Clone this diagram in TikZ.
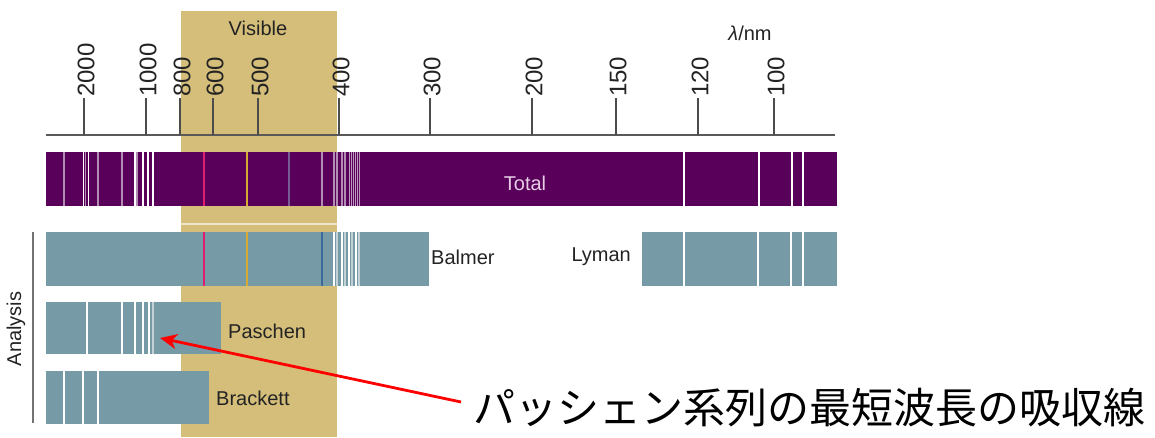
\documentclass[tikz,border=0pt]{standalone}
\usepackage{fontspec}
\setmainfont{Liberation Sans}
\newfontfamily\jpfont{Noto Sans CJK JP}
\usetikzlibrary{arrows.meta}
\definecolor{gold}{RGB}{212,190,122}
\definecolor{purp}{RGB}{88,0,90}
\definecolor{tealbar}{RGB}{118,154,166}
\definecolor{lred}{RGB}{222,30,110}
\definecolor{lyel}{RGB}{215,170,50}
\definecolor{lvio}{RGB}{120,90,150}
\definecolor{lblue}{RGB}{60,105,155}
\definecolor{txtdark}{RGB}{35,35,35}
\definecolor{totaltxt}{RGB}{232,205,232}
\begin{document}
\begin{tikzpicture}[x=1pt,y=-1pt,
  bar/.style={draw=none, inner sep=0pt, anchor=north west},
  axisline/.style={draw=black!65, line width=1.4pt},
  tickline/.style={draw=black!70, line width=1.2pt},
  ticklab/.style={rotate=90, anchor=west, inner sep=0pt, font=\fontsize{24}{26}\selectfont, text=txtdark},
  lab/.style={inner sep=0pt, font=\fontsize{20}{22}\selectfont, text=txtdark},
  wl/.style={draw=white, line width=1.4pt},
  pl/.style={draw=white, opacity=0.55, line width=1.2pt},
  thinl/.style={draw=white, opacity=0.6, line width=0.7pt},
  redarrow/.style={draw=red, line width=2.8pt, -{Stealth[length=17pt,width=15pt,inset=5pt]}}
]
\useasboundingbox (0,0) rectangle (1155,437);
\fill[white] (0,0) rectangle (1155,437);
% visible band
\fill[gold] (181,11) rectangle (337,437);
\draw[draw=white, opacity=0.6, line width=1.6pt] (181,224) -- (337,224);
\node[lab] (vis) at (258,28) {Visible};
\node[lab] (lam) at (750,33) {\textit{λ}/nm};
% axis
\coordinate (axL) at (46,135);
\coordinate (axR) at (835,135);
\draw[axisline] (axL) -- (axR);
\foreach \x/\l in {84/2000,146/1000,180/800,213/600,258/500,339/400,430/300,532/200,616/150,698/120,774/100}{
  \coordinate (b\l) at (\x,135);
  \node[ticklab] (t\l) at (\x+2,97) {\l};
  \draw[tickline] (b\l) -- (\x,98);
}
% Total
\node[bar, fill=purp, minimum width=791pt, minimum height=54pt] (total) at (46,152) {};
\foreach \x in {83.5,88.5,135,143,148,153,684,759,792,803}{\draw[wl] (\x,152) -- (\x,206);}
\foreach \x in {64,85.5,98,122,137,322,334,337,342,345}{\draw[pl] (\x,152) -- (\x,206);}
\foreach \x in {349,351,353,355,357,359.5}{\draw[thinl] (\x,152) -- (\x,206);}
\draw[draw=lred, line width=1.8pt] (204,152) -- (204,206);
\draw[draw=lyel, line width=1.8pt] (247,152) -- (247,206);
\draw[draw=lvio, line width=1.6pt] (289,152) -- (289,206);
\node[inner sep=0pt, font=\fontsize{20}{22}\selectfont, text=totaltxt] (totlab) at (525,183) {Total};
% Balmer
\node[bar, fill=tealbar, minimum width=383pt, minimum height=54pt] (balmer) at (46,232) {};
\foreach \x in {334,342,349,356}{\draw[wl] (\x,232) -- (\x,286);}
\foreach \x in {337,345,352,359}{\draw[pl] (\x,232) -- (\x,286);}
\draw[draw=lred, line width=1.8pt] (204,232) -- (204,286);
\draw[draw=lyel, line width=1.8pt] (247,232) -- (247,286);
\draw[draw=lblue, line width=1.8pt] (322,232) -- (322,286);
\node[lab, anchor=west] (balab) at (431,257) {Balmer};
% Lyman
\node[bar, fill=tealbar, minimum width=195pt, minimum height=54pt] (lyman) at (642,232) {};
\foreach \x in {684,758,791,803}{\draw[wl] (\x,232) -- (\x,286);}
\node[lab, anchor=east] (lylab) at (631,257) {Lyman};
% Paschen
\node[bar, fill=tealbar, minimum width=175pt, minimum height=52pt] (paschen) at (46,302) {};
\foreach \x in {87,122,135,143,149}{\draw[wl] (\x,302) -- (\x,354);}
\draw[pl] (153,302) -- (153,354);
\node[lab, anchor=west] (palab) at (228,331) {Paschen};
% Brackett
\node[bar, fill=tealbar, minimum width=163pt, minimum height=53pt] (brackett) at (46,371) {};
\foreach \x in {64,83,98}{\draw[wl] (\x,371) -- (\x,424);}
\node[lab, anchor=west] (brlab) at (216,398) {Brackett};
% Analysis
\coordinate (anT) at (33,232);
\coordinate (anB) at (33,423);
\draw[draw=black!55, line width=1.3pt] (anT) -- (anB);
\node[lab, rotate=90] (anlab) at (16,329) {Analysis};
% annotation
\node[inner sep=0pt, inner xsep=12pt, anchor=west, font=\jpfont\fontsize{42}{48}\selectfont] (jp) at (461,408) {パッシェン系列の最短波長の吸収線};
\coordinate (tip) at (160,338);
\draw[redarrow] ([yshift=6pt]jp.west) -- (tip);
\end{tikzpicture}
\end{document}
